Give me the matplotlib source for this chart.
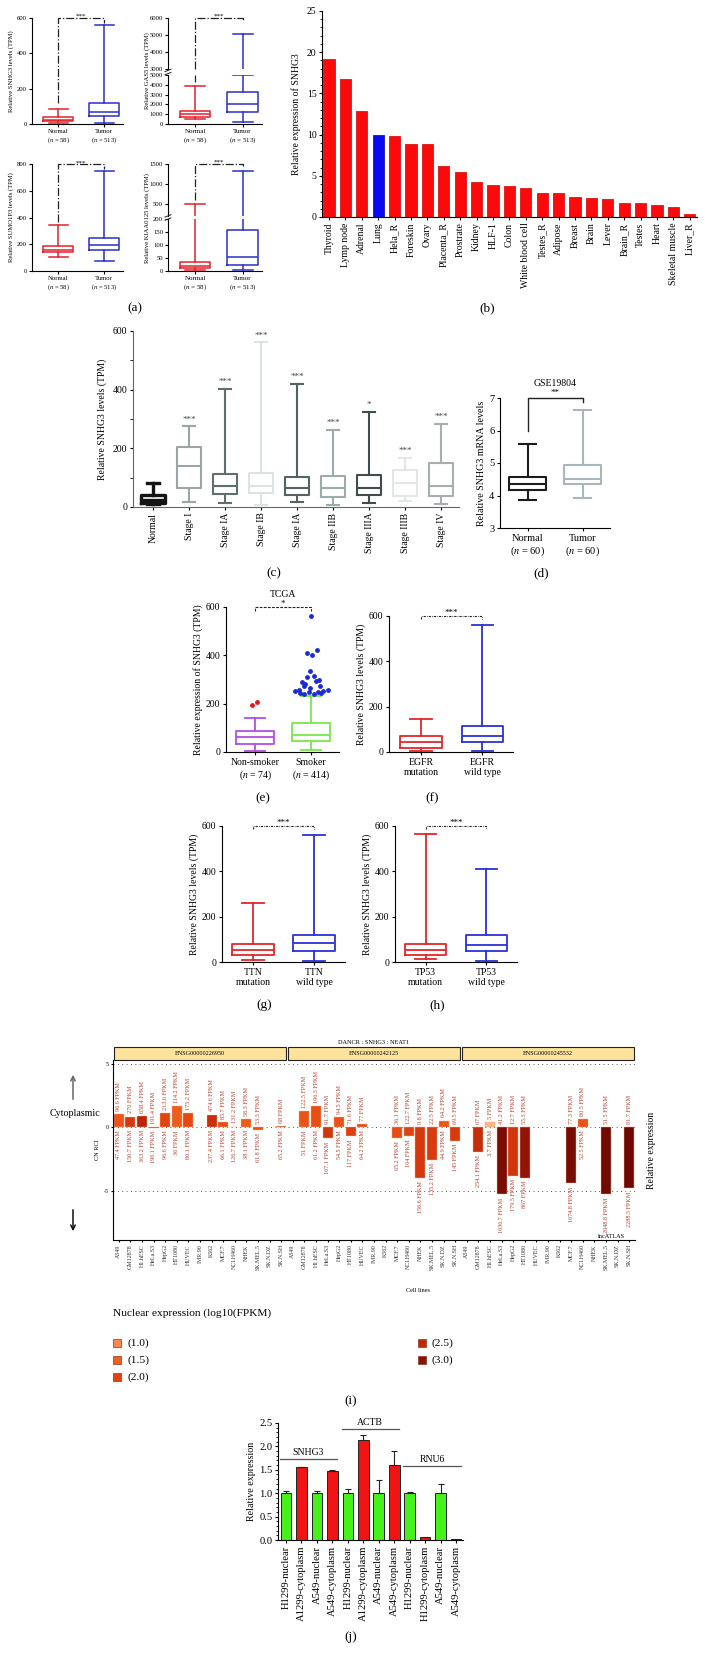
import numpy as np
import matplotlib
matplotlib.use("Agg")
import matplotlib.pyplot as plt
from matplotlib.colors import LinearSegmentedColormap, Normalize
from matplotlib.patches import Rectangle, FancyArrowPatch
from matplotlib.lines import Line2D
from matplotlib.ticker import MultipleLocator
import matplotlib.transforms as mtransforms

plt.rcParams['font.family'] = 'serif'
plt.rcParams['font.serif'] = ['Liberation Serif', 'DejaVu Serif']
plt.rcParams['mathtext.fontset'] = 'stix'
plt.rcParams['axes.linewidth'] = 0.8

W, H = 705, 1664

# ---------------- data ----------------
# box summaries: [whisker low, q1, median, q3, whisker high]
a_groups = ['Normal\n($n$ = 58)', 'Tumor\n($n$ = 513)']
a_snhg3 = [[8, 15, 25, 38, 85], [3, 45, 68, 117, 563]]
a_gas5 = [[500, 710, 980, 1290, 3900], [200, 1220, 2020, 3220, 5050]]
a_sumo1p3 = [[105, 145, 160, 190, 345], [75, 160, 195, 250, 745]]
a_kiaa0125 = [[5, 10, 18, 35, 490], [2, 25, 55, 157, 1320]]

b_tissues = ['Thyroid', 'Lymp node', 'Adrenal', 'Lung', 'Hela_R', 'Foreskin', 'Ovary',
             'Placenta_R', 'Prostrate', 'Kidney', 'HLF-1', 'Colon', 'White blood cell',
             'Testes_R', 'Adipose', 'Breast', 'Brain', 'Lever', 'Brain_R', 'Testes',
             'Heart', 'Skeletal muscle', 'Liver_R']
b_values = [19.2, 16.8, 12.9, 9.9, 9.85, 8.9, 8.8, 6.2, 5.45, 4.25, 3.85, 3.75, 3.5,
            2.95, 2.9, 2.4, 2.3, 2.15, 1.75, 1.65, 1.45, 1.2, 0.35]

c_groups = ['Normal', 'Stage I', 'Stage IA', 'Stage IB', 'Stage IA', 'Stage IIB',
            'Stage IIIA', 'Stage IIIB', 'Stage IV']
c_box = [[10, 15, 25, 40, 83], [17, 66, 140, 203, 275], [15, 46, 70, 114, 403],
         [6, 47, 72, 116, 561], [16, 42, 64, 102, 421], [6, 33, 66, 106, 264],
         [14, 40, 64, 110, 325], [22, 39, 82, 125, 167], [10, 39, 71, 151, 284]]
c_stars = ['', '***', '***', '***', '***', '***', '*', '***', '***']
c_colors = ['#141414', '#9ba5a5', '#5f6e6e', '#dde2e2', '#536262', '#9eabab',
            '#3f4d4d', '#e3e7e7', '#a5afaf']

d_groups = ['Normal\n($n$ = 60)', 'Tumor\n($n$ = 60)']
d_box = [[3.85, 4.17, 4.36, 4.58, 5.57], [3.93, 4.35, 4.50, 4.95, 6.64]]

e_groups = ['Non-smoker\n($n$ = 74)', 'Smoker\n($n$ = 414)']
e_box = [[5, 34, 61, 85, 141], [10, 44, 70, 120, 230]]
e_out_non = [(-0.05, 196), (0.04, 205)]
e_out_smk = [(0.0, 561), (-0.08, 410), (0.10, 421), (0.01, 403), (-0.01, 334), (0.05, 313),
             (-0.08, 310), (-0.16, 288), (-0.10, 283), (0.08, 292), (0.14, 297), (-0.02, 265),
             (0.16, 272), (-0.28, 251), (-0.20, 244), (-0.12, 241), (-0.04, 247), (0.05, 241),
             (0.12, 247), (0.21, 251), (0.30, 255), (-0.22, 258), (-0.12, 274), (0.17, 244)]

f_groups = ['EGFR\nmutation', 'EGFR\nwild type']
f_box = [[4, 19, 44, 69, 146], [3, 43, 71, 116, 560]]
g_groups = ['TTN\nmutation', 'TTN\nwild type']
g_box = [[10, 30, 52, 80, 262], [4, 49, 84, 121, 560]]
h_groups = ['TP53\nmutation', 'TP53\nwild type']
h_box = [[12, 32, 55, 80, 563], [4, 47, 77, 121, 410]]

nan = np.nan
i_cells = ['A549', 'GM12878', 'H1.hESC', 'HeLa.S3', 'HepG2', 'HT1080', 'HUVEC', 'IMR.90',
           'K562', 'MCF.7', 'NCI.H460', 'NHEK', 'SK.MEL.5', 'SK.N.DZ', 'SK.N.SH']
i_genes = ['ENSG00000226950', 'ENSG00000242125', 'ENSG00000245532']
i_rci_1 = [1.03, 0.84, 0.86, -0.04, 1.14, 1.67, 1.13, nan, 1.0, 0.37, 0.05, 0.61, -0.21, nan, 0.06]
i_cyto_1 = [96.6, 270, 658.4, 191.4, 213.6, 114.2, 175.2, nan, 474.6, 85.7, 131.2, 58.3, 53.3, nan, 68]
i_nuc_1 = [47.4, 150.7, 363.2, 196.1, 96.6, 36, 80.1, nan, 237.4, 66.1, 126.7, 38.1, 61.8, nan, 65.2]
i_rci_2 = [nan, 1.26, 1.68, -0.87, 0.79, -0.71, 0.26, nan, nan, -0.85, -0.71, -4.0, -2.59, 0.52, -1.06]
i_cyto_2 = [nan, 122.5, 196.5, 91.7, 94.5, 71.6, 77, nan, nan, 36.1, 122.7, 9.8, 22.5, 64.2, 69.5]
i_nuc_2 = [nan, 51, 61.2, 167.1, 54.5, 117, 64.2, nan, nan, 65.2, 104, 156.6, 135.2, 44.9, 145]
i_rci_3 = [nan, -1.92, 0.43, -5.31, -3.82, -3.97, nan, nan, nan, -4.44, 0.62, nan, -5.31, nan, -4.81]
i_cyto_3 = [nan, 67, 5, 41.2, 12.7, 55.3, nan, nan, nan, 77.3, 80.5, nan, 51.5, nan, 81.7]
i_nuc_3 = [nan, 254.1, 3.7, 1636.7, 179.5, 867, nan, nan, nan, 1674.8, 52.5, nan, 2048.8, nan, 2288.5]
i_levels = [1.0, 1.5, 2.0, 2.5, 3.0]

j_samples = ['H1299-nuclear', 'A1299-cytoplasm', 'A549-nuclear', 'A549-cytoplasm',
             'H1299-nuclear', 'A1299-cytoplasm', 'A549-nuclear', 'A549-cytoplasm',
             'H1299-nuclear', 'H1299-cytoplasm', 'A549-nuclear', 'A549-cytoplasm']
j_values = [1.0, 1.56, 1.0, 1.48, 1.0, 2.14, 1.01, 1.60, 1.0, 0.065, 1.0, 0.012]
j_err = [0.04, 0.01, 0.04, 0.01, 0.08, 0.10, 0.28, 0.30, 0.02, nan, 0.19, nan]
j_genes = ['SNHG3', 'ACTB', 'RNU6']
j_gene_y = [1.73, 2.37, 1.58]

# ---------------- figure ----------------
fig = plt.figure(figsize=(W / 100, H / 100), dpi=100)


def add_ax(x0, y0, x1, y1):
    return fig.add_axes([x0 / W, 1 - y1 / H, (x1 - x0) / W, (y1 - y0) / H])


def ftext(x, y, s, **kw):
    kw.setdefault('ha', 'center')
    kw.setdefault('va', 'center')
    fig.text(x / W, 1 - y / H, s, **kw)


def style(ax, fs, length=2.5):
    for s in ['top', 'right']:
        ax.spines[s].set_visible(False)
    ax.tick_params(labelsize=fs, length=length, width=0.8, pad=1.5)


def boxes(ax, data, colors, width, capw, lw):
    lws = lw if isinstance(lw, list) else [lw] * len(data)
    for p, (b, c, w) in enumerate(zip(data, colors, lws), start=1):
        st = dict(whislo=b[0], q1=b[1], med=b[2], q3=b[3], whishi=b[4], fliers=[])
        kw = dict(color=c, linewidth=w)
        ax.bxp([st], positions=[p], widths=width, capwidths=capw, showfliers=False,
               manage_ticks=False, boxprops=kw, whiskerprops=kw, capprops=kw, medianprops=kw)


a_cols = ['#e3222b', '#2b2fc7']

# (a) SNHG3
ax = add_ax(32, 18, 123, 124)
boxes(ax, a_snhg3, a_cols, 0.64, 0.42, 1.1)
ax.set_xlim(0.43, 2.41)
ax.set_ylim(0, 600)
ax.set_yticks([0, 200, 400, 600])
ax.set_xticks([1, 2])
ax.set_xticklabels(a_groups, fontsize=5)
ax.set_ylabel('Relative SNHG3 levels (TPM)', fontsize=4.8, labelpad=2)
style(ax, 4.8, 2)
ax.plot([1, 1, 2, 2], [120, 600, 600, 572], ls='-.', color='#222', lw=0.9, clip_on=False)
ax.text(1.5, 595, '***', ha='center', va='bottom', fontsize=5)

# (a) SUMO1P3
ax = add_ax(32, 164, 123, 271)
boxes(ax, a_sumo1p3, a_cols, 0.64, 0.42, 1.1)
ax.set_xlim(0.43, 2.41)
ax.set_ylim(0, 800)
ax.set_yticks([0, 200, 400, 600, 800])
ax.set_xticks([1, 2])
ax.set_xticklabels(a_groups, fontsize=5)
ax.set_ylabel('Relative SUMO1P3 levels (TPM)', fontsize=4.8, labelpad=2)
style(ax, 4.8, 2)
ax.plot([1, 1, 2, 2], [365, 800, 800, 765], ls='-.', color='#222', lw=0.9, clip_on=False)
ax.text(1.5, 790, '***', ha='center', va='bottom', fontsize=5)


def broken_panel(x0, x1, up_px, lo_px, data, up_lim, lo_lim, up_ticks, lo_ticks, ylabel, ny, norm_drop, tum_drop):
    up = add_ax(x0, up_px[0], x1, up_px[1])
    lo = add_ax(x0, lo_px[0], x1, lo_px[1])
    boxes(lo, data, a_cols, 0.64, 0.42, 1.1)
    for p, b, c in zip([1, 2], data, a_cols):
        if b[4] > lo_lim[1]:
            up.plot([p, p], [up_lim[0], b[4]], color=c, lw=1.1)
            up.plot([p - 0.21, p + 0.21], [b[4], b[4]], color=c, lw=1.1)
    for a in (up, lo):
        a.set_xlim(0.43, 2.41)
        style(a, 4.8, 2)
    up.set_ylim(up_lim)
    lo.set_ylim(lo_lim)
    up.set_yticks(up_ticks)
    lo.set_yticks(lo_ticks)
    up.spines['bottom'].set_visible(False)
    up.set_xticks([])
    lo.set_xticks([1, 2])
    lo.set_xticklabels(a_groups, fontsize=5)
    start = up_lim[0] if norm_drop < lo_lim[1] else norm_drop
    up.plot([1, 1, 2, 2], [start, up_lim[1], up_lim[1], tum_drop], ls='-.', color='#222', lw=0.9, clip_on=False)
    if norm_drop < lo_lim[1]:
        lo.plot([1, 1], [norm_drop, lo_lim[1]], ls='-.', color='#222', lw=0.9)
    up.text(1.5, up_lim[1] - (up_lim[1] - up_lim[0]) * 0.02, '***', ha='center', va='bottom', fontsize=5)
    yb = (up_px[1] + lo_px[0]) / 2
    for dy in (-1.6, 1.6):
        fig.add_artist(Line2D([(x0 - 3) / W, (x0 + 3) / W], [1 - (yb + dy + 1.2) / H, 1 - (yb + dy - 1.2) / H],
                              color='#222', lw=0.7))
    ftext(x0 - 21, ny, ylabel, rotation=90, fontsize=4.8)


broken_panel(168, 262, (18, 69), (75, 124), a_gas5, (3000, 6000), (0, 5000),
             [3000, 4000, 5000, 6000], [0, 1000, 2000, 3000, 4000, 5000],
             'Relative GAS5 levels (TPM)', 71, 4300, 5800)
broken_panel(168, 262, (164, 216), (219, 271), a_kiaa0125, (200, 1500), (0, 200),
             [500, 1000, 1500], [0, 50, 100, 150, 200],
             'Relative KIAA0125 levels (TPM)', 218, 600, 1450)
ftext(135, 308, '(a)', fontsize=9.5)

# (b)
ax = add_ax(322, 11, 697, 217)
xb = np.arange(len(b_tissues))
b_cols = ['#0a0af0' if t == 'Lung' else '#fa0a0a' for t in b_tissues]
b_edges = ['#0000a0' if t == 'Lung' else '#d00000' for t in b_tissues]
ax.bar(xb, b_values, width=0.68, color=b_cols, edgecolor=b_edges, linewidth=0.5)
ax.set_xlim(-0.43, 22.44)
ax.set_ylim(0, 25)
ax.set_yticks(np.arange(0, 26, 5))
ax.yaxis.set_minor_locator(MultipleLocator(1))
ax.set_xticks(xb)
ax.set_xticklabels(b_tissues, rotation=90, fontsize=7)
ax.set_ylabel('Relative expression of SNHG3', fontsize=7)
style(ax, 7)
ax.tick_params(which='minor', length=1.5)
ftext(487, 308, '(b)', fontsize=9.5)

# (c)
ax = add_ax(133, 331, 459, 507)
boxes(ax, c_box, c_colors, 0.68, 0.34, [2.4] + [1.5] * 8)
for p, (b, s) in enumerate(zip(c_box, c_stars), start=1):
    ax.text(p, b[4] + 10, s, ha='center', va='bottom', fontsize=6.5, color='#444')
ax.set_xlim(0.44, 9.5)
ax.set_ylim(0, 600)
ax.set_yticks([0, 200, 400, 600])
ax.yaxis.set_minor_locator(MultipleLocator(100))
ax.set_xticks(range(1, 10))
ax.set_xticklabels(c_groups, rotation=90, fontsize=7)
ax.set_ylabel('Relative SNHG3 levels (TPM)', fontsize=7)
style(ax, 7)
for s in ['left', 'bottom']:
    ax.spines[s].set_color('#666')
ftext(274, 573, '(c)', fontsize=9.5)

# (d)
ax = add_ax(500, 398, 610, 528)
boxes(ax, d_box, ['#1c1c1c', '#a8b7ba'], 0.69, 0.3, 1.5)
ax.set_xlim(0.5, 2.5)
ax.set_ylim(3, 7)
ax.set_yticks([3, 4, 5, 6, 7])
ax.set_xticks([1, 2])
ax.set_xticklabels(d_groups, fontsize=7.5)
ax.set_ylabel('Relative SNHG3 mRNA levels', fontsize=7.2, labelpad=2)
style(ax, 7.5)
ax.plot([1, 1, 2, 2], [6.0, 7.0, 7.0, 6.87], color='#222', lw=1, clip_on=False)
ax.text(1.5, 7.03, '**', ha='center', va='bottom', fontsize=6.5)
ax.text(1.5, 7.32, 'GSE19804', ha='center', va='bottom', fontsize=7)
ftext(541, 573, '(d)', fontsize=9.5)


def pair_panel(box, groups, cols, px, ylabel, ls, stars, xl, lw=1.3):
    ax = add_ax(*px)
    boxes(ax, box, cols, 0.68, 0.35, lw)
    ax.set_xlim(*xl)
    ax.set_ylim(0, 600)
    ax.set_yticks([0, 200, 400, 600])
    ax.set_xticks([1, 2])
    ax.set_xticklabels(groups, fontsize=7.4)
    ax.set_ylabel(ylabel, fontsize=7, labelpad=2)
    style(ax, 7)
    ax.plot([1, 1, 2, 2], [585, 600, 600, 585], ls=ls, color='#222', lw=0.8, clip_on=False)
    ax.text(1.5, 598, stars, ha='center', va='bottom', fontsize=6.5)
    return ax


# (e)
ax = pair_panel(e_box, e_groups, ['#b44ee6', '#7ae84c'], (226, 607, 339, 752),
                'Relative expression of SNHG3 (TPM)', (0, (2.5, 1.2)), '*', (0.48, 2.5))
ax.scatter([1 + d for d, v in e_out_non], [v for d, v in e_out_non], s=6, color='#e01818', zorder=3)
ax.scatter([2 + d for d, v in e_out_smk], [v for d, v in e_out_smk], s=6, color='#1a2ad8', zorder=3)
ax.text(1.5, 635, 'TCGA', ha='center', va='bottom', fontsize=7)
ftext(263, 798, '(e)', fontsize=9.5)

# (f)
pair_panel(f_box, f_groups, ['#e0262a', '#2b32d8'], (389, 616, 513, 752),
           'Relative SNHG3 levels (TPM)', (0, (2, 1, 0.6, 1)), '***', (0.475, 2.5))
ftext(432, 798, '(f)', fontsize=9.5)

# (g), (h)
pair_panel(g_box, g_groups, ['#e0262a', '#2b32d8'], (222, 826, 345, 962),
           'Relative SNHG3 levels (TPM)', (0, (2, 1, 0.6, 1)), '***', (0.49, 2.51))
ftext(264, 1005, '(g)', fontsize=9.5)
pair_panel(h_box, h_groups, ['#e0262a', '#2b32d8'], (395, 826, 517, 962),
           'Relative SNHG3 levels (TPM)', (0, (2, 1, 0.6, 1)), '***', (0.49, 2.51))
ftext(437, 1005, '(h)', fontsize=9.5)

# (i) lncATLAS
lv = [0.5, 1.0, 1.5, 2.0, 2.5, 3.0, 3.4]
lc = ['#fbbd8e', '#f7874a', '#f25f1c', '#e2420f', '#c0280a', '#8e1204', '#6a0800']
nuc_cmap = LinearSegmentedColormap.from_list('nuc', list(zip([(v - 0.5) / 2.9 for v in lv], lc)))
nuc_norm = Normalize(0.5, 3.4)

ax = add_ax(113, 1060, 635, 1240)
lab_col = '#b5402f'
for f, (rci, cyto, nuc) in enumerate([(i_rci_1, i_cyto_1, i_nuc_1),
                                      (i_rci_2, i_cyto_2, i_nuc_2),
                                      (i_rci_3, i_cyto_3, i_nuc_3)]):
    for s in range(len(i_cells)):
        if np.isnan(rci[s]):
            continue
        x = f * 15 + s + 1
        ax.bar(x, rci[s], width=0.86, color=nuc_cmap(nuc_norm(np.log10(nuc[s]))),
               edgecolor='#f6b090', linewidth=0.3, zorder=2)
        ax.text(x, max(rci[s], 0) + 0.25, f'{cyto[s]:g} FPKM', rotation=90, ha='center',
                va='bottom', fontsize=4.4, color=lab_col)
        ax.text(x, min(rci[s], 0) - 0.25, f'{nuc[s]:g} FPKM', rotation=90, ha='center',
                va='top', fontsize=4.4, color=lab_col)
for yv in (5, 0, -5):
    ax.axhline(yv, ls=(0, (1, 3.5)), color='#555', lw=0.7, zorder=1)
trans = mtransforms.blended_transform_factory(ax.transData, ax.transAxes)
for f, gname in enumerate(i_genes):
    ax.add_patch(Rectangle((f * 15 + 0.56, 1.0), 14.88, 13 / 180, transform=trans,
                           facecolor='#fde39b', edgecolor='#222', lw=0.8, clip_on=False))
    ax.text(f * 15 + 8, 1.0 + 6.5 / 180, gname, transform=trans, ha='center', va='center', fontsize=4.4)
ax.set_xlim(0.5, 45.5)
ax.set_ylim(-8.9, 5.3)
ax.set_xticks(range(1, 46))
ax.set_xticklabels(i_cells * 3, rotation=90, fontsize=4.3, color='#333')
ax.set_yticks([-5, 0, 5])
ax.set_yticklabels(['-5', '0', '5'])
ax.set_ylabel('CN RCI', fontsize=4.5, labelpad=3)
style(ax, 4.3, 1.5)
ax.text(0.955, 0.005, 'lncATLAS', transform=ax.transAxes, ha='center', va='bottom', fontsize=4.5)
ftext(374, 1043, 'DANCR : SNHG3 : NEAT1', fontsize=4.5)
ftext(418, 1291, 'Cell lines', fontsize=4.5)
ftext(652, 1150, 'Relative expression', rotation=90, fontsize=7)
ftext(75, 1113, 'Cytoplasmic', fontsize=7.2)
fig.add_artist(FancyArrowPatch((73 / W, 1 - 1102 / H), (73 / W, 1 - 1072 / H), transform=fig.transFigure,
                               arrowstyle='->', mutation_scale=8, lw=1.1, color='#666'))
fig.add_artist(FancyArrowPatch((73 / W, 1 - 1207 / H), (73 / W, 1 - 1234 / H), transform=fig.transFigure,
                               arrowstyle='->', mutation_scale=8, lw=1.1, color='#111'))

ftext(113, 1313, 'Nuclear expression (log10(FPKM)', ha='left', fontsize=8.2)
for k, lvl in enumerate(i_levels):
    cx = [117, 422][k // 3]
    cy = 1343 + 17 * (k % 3)
    fig.add_artist(Rectangle(((cx - 4) / W, 1 - (cy + 4) / H), 8 / W, 8 / H, transform=fig.transFigure,
                             facecolor=nuc_cmap(nuc_norm(lvl)), edgecolor='#8a3a20', lw=0.5))
    ftext(cx + 10, cy, f'({lvl:.1f})', ha='left', fontsize=8.2)
ftext(351, 1401, '(i)', fontsize=9.5)

# (j)
ax = add_ax(278, 1423, 463, 1540)
xj = np.arange(len(j_samples))
j_cols = ['#47f21a' if 'nuclear' in s else '#f01414' for s in j_samples]
ax.bar(xj, j_values, width=0.69, color=j_cols, edgecolor='#222', linewidth=0.7)
ax.errorbar(xj, j_values, yerr=[np.zeros(len(xj)), j_err], fmt='none', ecolor='#222',
            elinewidth=0.8, capsize=2.2, capthick=0.8)
for g, (name, yv) in enumerate(zip(j_genes, j_gene_y)):
    x0, x1 = 4 * g - 0.4, 4 * g + 3.3
    ax.plot([x0, x1], [yv, yv], color='#555', lw=0.9, clip_on=False)
    ax.text((x0 + x1) / 2, yv + 0.05, name, ha='center', va='bottom', fontsize=7)
ax.set_xlim(-0.52, 11.45)
ax.set_ylim(0, 2.5)
ax.set_yticks(np.arange(0, 2.6, 0.5))
ax.set_yticklabels([f'{v:.1f}' for v in np.arange(0, 2.6, 0.5)])
ax.yaxis.set_minor_locator(MultipleLocator(0.1))
ax.set_xticks(xj)
ax.set_xticklabels(j_samples, rotation=90, fontsize=7.6)
ax.set_ylabel('Relative expression', fontsize=7.2, labelpad=2)
style(ax, 7.6)
ax.tick_params(which='minor', length=1.2)
ftext(351, 1637, '(j)', fontsize=9.5)

fig.savefig('out.png', dpi=100)
